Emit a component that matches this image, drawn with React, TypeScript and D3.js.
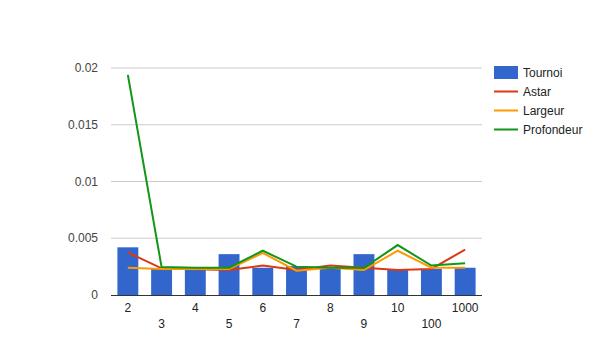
import React from "react";
import * as d3 from "d3";

const categories = ["2", "3", "4", "5", "6", "7", "8", "9", "10", "100", "1000"];
const tournoi = [0.0042, 0.00235, 0.0023, 0.0036, 0.0024, 0.00255, 0.0023, 0.0036, 0.0022, 0.0023, 0.0024];
const astar = [0.00375, 0.00235, 0.00226, 0.0022, 0.0026, 0.0022, 0.0026, 0.0024, 0.0022, 0.0023, 0.004];
const largeur = [0.0024, 0.0023, 0.0023, 0.0023, 0.0037, 0.00214, 0.0024, 0.0022, 0.0039, 0.0024, 0.0024];
const profondeur = [0.0194, 0.00246, 0.0024, 0.0024, 0.0039, 0.0025, 0.0024, 0.0024, 0.0044, 0.0026, 0.0028];
const yTicks = [0, 0.005, 0.01, 0.015, 0.02];
const yTickLabels = ["0", "0.005", "0.01", "0.015", "0.02"];

const lineSeries = [
  { name: "Astar", values: astar, color: "#dc3912" },
  { name: "Largeur", values: largeur, color: "#ff9900" },
  { name: "Profondeur", values: profondeur, color: "#109618" },
];

export default function App() {
  const W = 592, H = 361;
  const left = 111, right = 482, top = 68, bottom = 295;
  const x = d3.scaleBand().domain(categories).range([left, right]).paddingInner(0.38).paddingOuter(0.19);
  const y = d3.scaleLinear().domain([0, 0.02]).range([bottom, top]);
  const cx = (c: string) => (x(c) as number) + x.bandwidth() / 2;
  const font = "Arial, 'Liberation Sans', sans-serif";
  const line = d3.line<number>().x((_, i) => cx(categories[i])).y((v) => y(v));
  return (
    <svg width={W} height={H} style={{ position: "absolute", left: 0, top: 0 }} fontFamily={font}>
      <rect width={W} height={H} fill="#fff" />
      {yTicks.map((t, i) => (
        <g key={t}>
          {t !== 0 && <line x1={left} x2={right} y1={y(t)} y2={y(t)} stroke="#cccccc" strokeWidth={1} />}
          <text x={98} y={y(t)} dy="0.35em" textAnchor="end" fontSize={12} fill="#444">
            {yTickLabels[i]}
          </text>
        </g>
      ))}
      {categories.map((c, i) => (
        <rect key={c} x={x(c)} y={y(tournoi[i])} width={x.bandwidth()} height={bottom - y(tournoi[i])} fill="#3366cc" />
      ))}
      <line x1={left} x2={right} y1={bottom + 0.5} y2={bottom + 0.5} stroke="#333" strokeWidth={1} />
      {lineSeries.map((s) => (
        <path key={s.name} d={line(s.values) || ""} fill="none" stroke={s.color} strokeWidth={2} />
      ))}
      {categories.map((c, i) => (
        <text key={c} x={cx(c)} y={i % 2 === 0 ? 312 : 328} textAnchor="middle" fontSize={12} fill="#222">
          {c}
        </text>
      ))}
      <g>
        <rect x={494} y={66} width={24} height={13} fill="#3366cc" />
        <text x={523} y={72.5} dy="0.35em" fontSize={12} fill="#222">Tournoi</text>
        {lineSeries.map((s, i) => (
          <g key={s.name}>
            <line x1={494} x2={518} y1={91.5 + i * 19} y2={91.5 + i * 19} stroke={s.color} strokeWidth={2} />
            <text x={523} y={91.5 + i * 19} dy="0.35em" fontSize={12} fill="#222">{s.name}</text>
          </g>
        ))}
      </g>
    </svg>
  );
}
